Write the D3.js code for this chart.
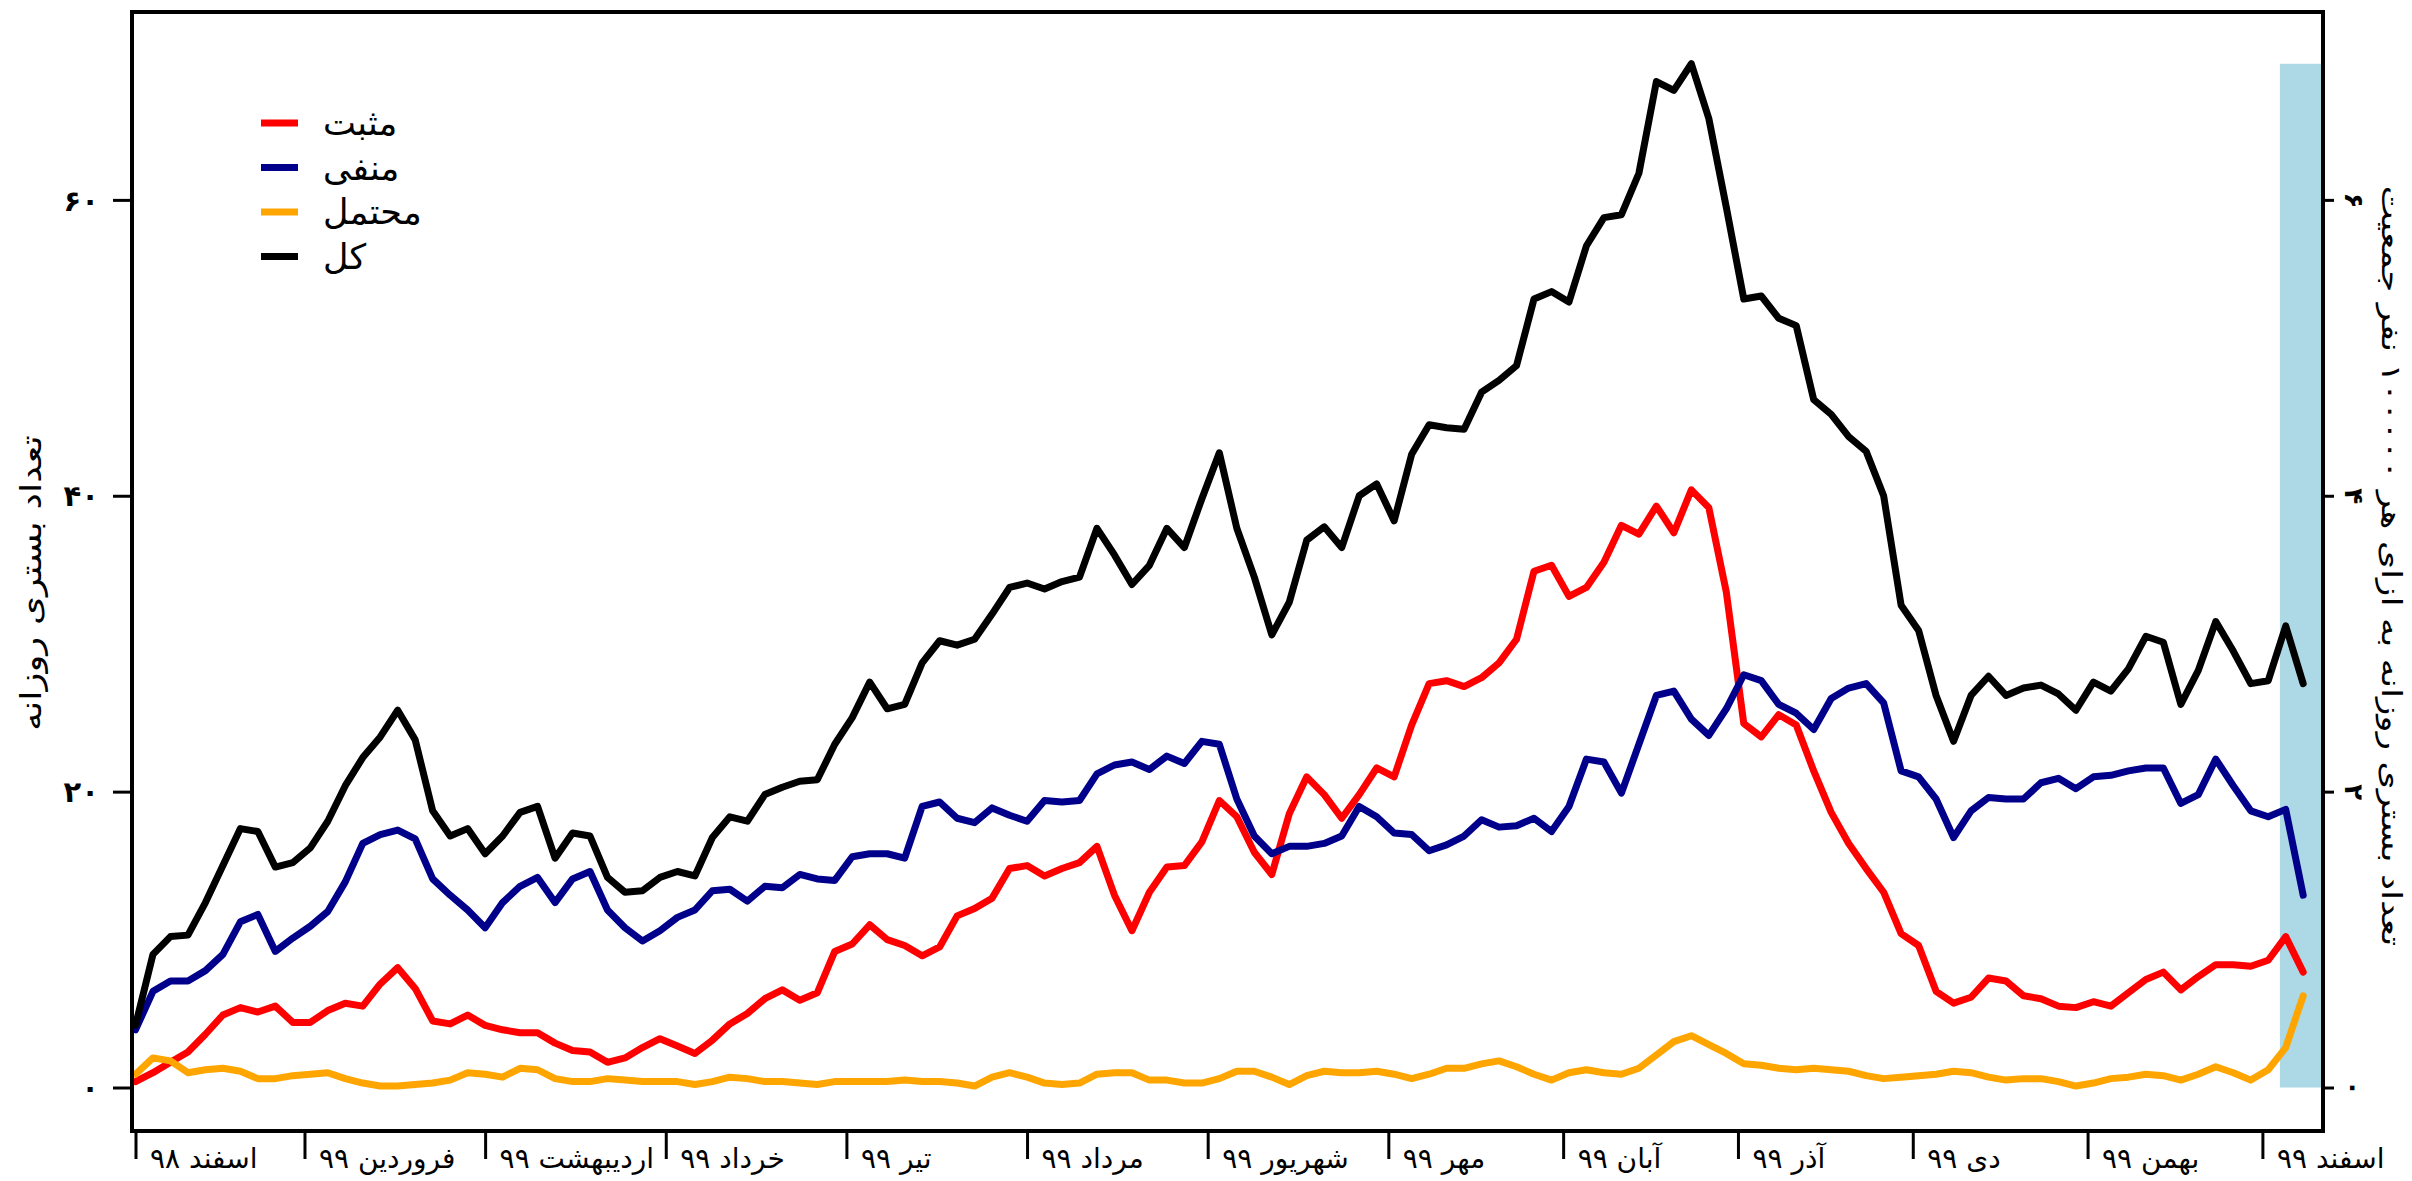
<!DOCTYPE html>
<html><head><meta charset="utf-8">
<script src="https://cdn.jsdelivr.net/npm/d3@7"></script>
<style>
html,body{margin:0;padding:0;background:#fff;overflow:hidden;}
svg{display:block;}
text{font-family:"DejaVu Sans",sans-serif;fill:#000;}
</style></head>
<body>
<svg id="chart" width="2412" height="1181"></svg>
<script>
// day index counted from 1 Esfand 1398
const days = [0,3,6,9,12,15,18,21,24,27,30,33,36,39,42,45,48,51,54,57,60,63,66,69,72,75,78,81,84,87,90,93,96,99,102,105,108,111,114,117,120,123,126,129,132,135,138,141,144,147,150,153,156,159,162,165,168,171,174,177,180,183,186,189,192,195,198,201,204,207,210,213,216,219,222,225,228,231,234,237,240,243,246,249,252,255,258,261,264,267,270,273,276,279,282,285,288,291,294,297,300,303,306,309,312,315,318,321,324,327,330,333,336,339,342,345,348,351,354,357,360,363,366,369,372];

const positive = [0.4,1.0,1.7,2.4,3.6,4.9,5.4,5.1,5.5,4.4,4.4,5.2,5.7,5.5,7.0,8.1,6.7,4.5,4.3,4.9,4.2,3.9,3.7,3.7,3.0,2.5,2.4,1.7,2.0,2.7,3.3,2.8,2.3,3.2,4.3,5.0,6.0,6.6,5.9,6.4,9.2,9.7,11.0,10.0,9.6,8.9,9.5,11.6,12.1,12.8,14.8,15.0,14.3,14.8,15.2,16.3,13.0,10.6,13.2,14.9,15.0,16.6,19.4,18.3,15.9,14.4,18.5,21.0,19.8,18.2,19.8,21.6,21.0,24.5,27.3,27.5,27.1,27.7,28.7,30.3,34.9,35.3,33.2,33.8,35.5,38.0,37.4,39.3,37.5,40.4,39.2,33.5,24.6,23.7,25.2,24.5,21.4,18.6,16.5,14.8,13.2,10.4,9.6,6.5,5.7,6.1,7.4,7.2,6.2,6.0,5.5,5.4,5.8,5.5,6.4,7.3,7.8,6.6,7.5,8.3,8.3,8.2,8.6,10.2,7.8];

const negative = [3.9,6.5,7.2,7.2,7.9,9.0,11.2,11.7,9.2,10.1,10.9,11.9,13.9,16.5,17.1,17.4,16.8,14.1,13.0,12.0,10.8,12.5,13.6,14.2,12.5,14.1,14.6,12.0,10.8,9.9,10.6,11.5,12.0,13.3,13.4,12.6,13.6,13.5,14.4,14.1,14.0,15.6,15.8,15.8,15.5,19.0,19.3,18.2,17.9,18.9,18.4,18.0,19.4,19.3,19.4,21.2,21.8,22.0,21.5,22.4,21.9,23.4,23.2,19.5,17.0,15.8,16.3,16.3,16.5,17.0,19.0,18.3,17.2,17.1,16.0,16.4,17.0,18.1,17.6,17.7,18.2,17.3,19.0,22.2,22.0,19.9,23.2,26.5,26.8,24.9,23.8,25.6,27.9,27.5,25.9,25.3,24.2,26.3,27.0,27.3,26.0,21.4,21.0,19.5,16.9,18.7,19.6,19.5,19.5,20.6,20.9,20.2,21.0,21.1,21.4,21.6,21.6,19.2,19.8,22.2,20.4,18.7,18.3,18.8,13.0];

const probable = [0.9,2.0,1.8,1.0,1.2,1.3,1.1,0.6,0.6,0.8,0.9,1.0,0.6,0.3,0.1,0.1,0.2,0.3,0.5,1.0,0.9,0.7,1.3,1.2,0.6,0.4,0.4,0.6,0.5,0.4,0.4,0.4,0.2,0.4,0.7,0.6,0.4,0.4,0.3,0.2,0.4,0.4,0.4,0.4,0.5,0.4,0.4,0.3,0.1,0.7,1.0,0.7,0.3,0.2,0.3,0.9,1.0,1.0,0.5,0.5,0.3,0.3,0.6,1.1,1.1,0.7,0.2,0.8,1.1,1.0,1.0,1.1,0.9,0.6,0.9,1.3,1.3,1.6,1.8,1.4,0.9,0.5,1.0,1.2,1.0,0.9,1.3,2.2,3.1,3.5,2.9,2.3,1.6,1.5,1.3,1.2,1.3,1.2,1.1,0.8,0.6,0.7,0.8,0.9,1.1,1.0,0.7,0.5,0.6,0.6,0.4,0.1,0.3,0.6,0.7,0.9,0.8,0.5,0.9,1.4,1.0,0.5,1.2,2.7,6.2];

const total = [4.2,9.0,10.2,10.3,12.5,15.0,17.5,17.3,14.9,15.2,16.2,18.0,20.4,22.3,23.7,25.5,23.5,18.7,17.0,17.5,15.8,17.0,18.6,19.0,15.5,17.2,17.0,14.2,13.2,13.3,14.2,14.6,14.3,16.9,18.3,18.0,19.8,20.3,20.7,20.8,23.2,25.0,27.4,25.6,25.9,28.7,30.2,29.9,30.3,32.0,33.8,34.1,33.7,34.2,34.5,37.8,36.0,34.0,35.3,37.8,36.5,39.8,42.9,37.8,34.5,30.6,32.8,37.0,37.9,36.5,40.0,40.8,38.3,42.8,44.8,44.6,44.5,47.0,47.8,48.8,53.3,53.8,53.1,56.9,58.8,59.0,61.8,68.0,67.4,69.2,65.5,59.5,53.3,53.5,52.0,51.5,46.5,45.5,44.0,43.0,40.0,32.6,30.9,26.5,23.4,26.5,27.8,26.5,27.0,27.2,26.6,25.5,27.4,26.8,28.3,30.5,30.1,25.9,28.2,31.5,29.5,27.3,27.5,31.2,27.3];

const seriesNames = ["مثبت","منفی","محتمل","کل"];
const seriesColors = ["#ff0000","#00008b","#ffa500","#000000"];
const monthStarts = [0,29,60,91,122,153,184,215,245,275,305,335,365];
const monthLabels = ["اسفند ۹۸","فروردین ۹۹","اردیبهشت ۹۹","خرداد ۹۹","تیر ۹۹","مرداد ۹۹","شهریور ۹۹","مهر ۹۹","آبان ۹۹","آذر ۹۹","دی ۹۹","بهمن ۹۹","اسفند ۹۹"];
const leftTicks = [0,20,40,60];
const rightTicks = [0,2,4,6];
const spanDays = [368,375.4];
const yLabelLeft = "تعداد بستری روزانه";
const yLabelRight = "تعداد بستری روزانه به ازای هر ۱۰۰۰۰۰ نفر جمعیت";

const fa = s => String(s).replace(/\d/g, d => "۰۱۲۳۴۵۶۷۸۹"[+d]);

const svg = d3.select("#chart");
const m = {left:132, right:2323, top:12, bottom:1131};
const x = d3.scaleLinear().domain([-0.6, 375.4]).range([m.left, m.right]);
const y = d3.scaleLinear().domain([-2.94, 72.7]).range([m.bottom, m.top]);
const y2 = d3.scaleLinear().domain([-0.294, 7.27]).range([m.bottom, m.top]);

// shaded span
svg.append("rect")
  .attr("x", x(spanDays[0])).attr("y", y(d3.max(total)))
  .attr("width", x(spanDays[1]) - x(spanDays[0]))
  .attr("height", y(0) - y(d3.max(total)))
  .attr("fill", "#add8e6");

const seriesData = [positive, negative, probable, total];
const line = d3.line().x((d,i) => x(days[i])).y(d => y(d));
seriesData.forEach((s, k) => {
  svg.append("path").datum(s)
    .attr("d", line)
    .attr("fill", "none")
    .attr("stroke", seriesColors[k])
    .attr("stroke-width", 7)
    .attr("stroke-linejoin", "round")
    .attr("stroke-linecap", "round");
});

// frame
svg.append("rect")
  .attr("x", m.left).attr("y", m.top)
  .attr("width", m.right - m.left).attr("height", m.bottom - m.top)
  .attr("fill", "none").attr("stroke", "#000").attr("stroke-width", 4);

// left axis
const gl = svg.append("g").attr("transform", `translate(${m.left - 2},0)`)
  .call(d3.axisLeft(y).tickValues(leftTicks).tickSize(17).tickPadding(14).tickFormat(fa));
gl.select(".domain").remove();
gl.selectAll(".tick line").attr("stroke", "#000").attr("stroke-width", 3);
gl.selectAll(".tick text").style("font-size", "29px").style("font-weight", "bold").attr("dy", "0.35em");

// right axis
const gr = svg.append("g").attr("transform", `translate(${m.right + 2},0)`)
  .call(d3.axisRight(y2).tickValues(rightTicks).tickSize(9).tickFormat(fa));
gr.select(".domain").remove();
gr.selectAll(".tick line").attr("stroke", "#000").attr("stroke-width", 3);
gr.selectAll(".tick text")
  .attr("x", null).attr("dy", null)
  .attr("text-anchor", "middle").attr("dominant-baseline", "central")
  .attr("transform", "translate(29,0) rotate(90)")
  .style("font-size", "26px").style("font-weight", "bold");

// bottom axis (month starts)
const gb = svg.append("g").attr("transform", `translate(0,${m.bottom + 2})`)
  .call(d3.axisBottom(x).tickValues(monthStarts).tickSize(26).tickFormat((d,i) => monthLabels[i]));
gb.select(".domain").remove();
gb.selectAll(".tick line").attr("stroke", "#000").attr("stroke-width", 3);
gb.selectAll(".tick text")
  .attr("x", 14).attr("y", 25).attr("dy", null)
  .attr("text-anchor", "start").attr("dominant-baseline", "central")
  .style("font-size", "28px");

// axis titles (narrow glyphs as in the source)
svg.append("text")
  .attr("transform", "translate(31,583) rotate(-90) scale(1,0.8)")
  .attr("text-anchor", "middle").attr("dominant-baseline", "central")
  .style("font-size", "37px").text(yLabelLeft);
svg.append("text")
  .attr("transform", "translate(2391,566) rotate(90) scale(1,0.75)")
  .attr("text-anchor", "middle").attr("dominant-baseline", "central")
  .style("font-size", "36px").text(yLabelRight);

// legend
const lg = svg.append("g");
seriesNames.forEach((n, k) => {
  const yy = 123 + k * 44.5;
  lg.append("line").attr("x1", 261).attr("x2", 298).attr("y1", yy).attr("y2", yy)
    .attr("stroke", seriesColors[k]).attr("stroke-width", 7);
  lg.append("text").attr("x", 323).attr("y", yy).attr("dominant-baseline", "central")
    .style("font-size", "35px").text(n);
});
</script>
</body></html>
